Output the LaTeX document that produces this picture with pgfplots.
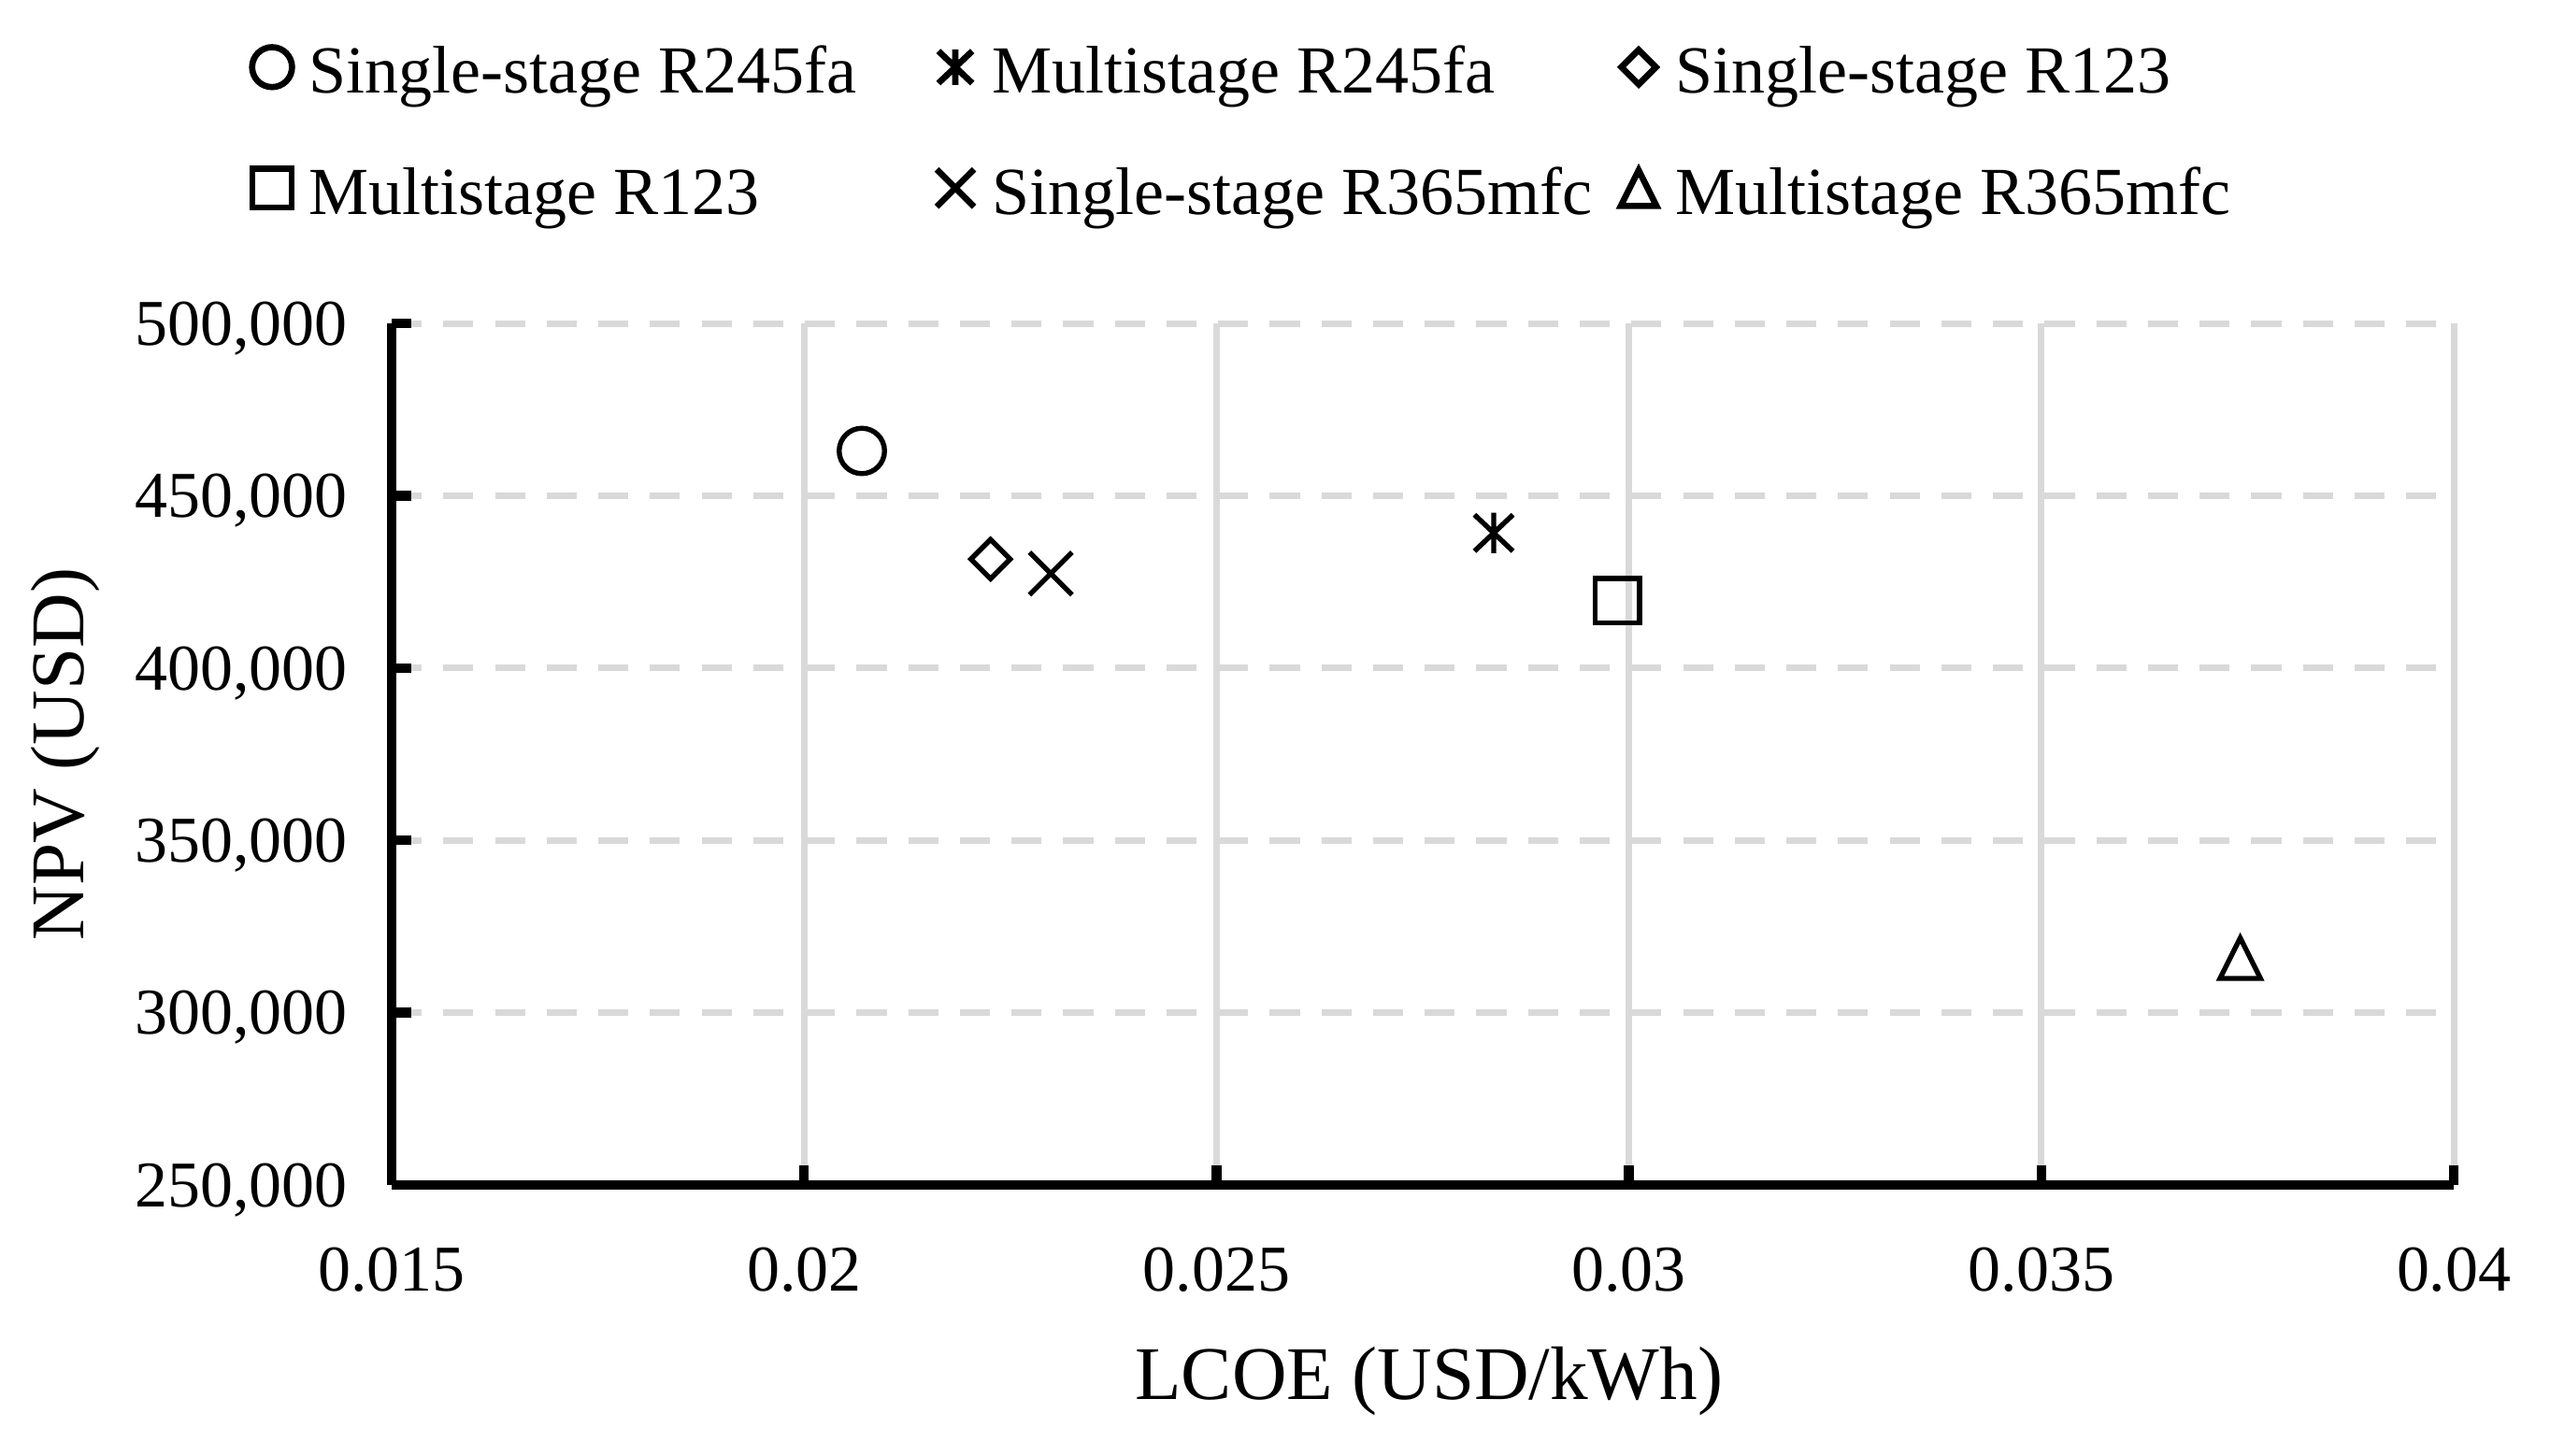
\documentclass[border=0pt]{standalone}
\usepackage{fontspec}
\setmainfont{Liberation Serif}
\usepackage{pgfplots}
\pgfplotsset{compat=1.18}
\usetikzlibrary{calc}

\definecolor{gridgray}{HTML}{D9D9D9}

\pgfdeclareplotmark{mydiamond}{%
  \pgfpathmoveto{\pgfqpoint{0pt}{\pgfplotmarksize}}%
  \pgfpathlineto{\pgfqpoint{\pgfplotmarksize}{0pt}}%
  \pgfpathlineto{\pgfqpoint{0pt}{-\pgfplotmarksize}}%
  \pgfpathlineto{\pgfqpoint{-\pgfplotmarksize}{0pt}}%
  \pgfpathclose\pgfusepathqstroke}
\pgfdeclareplotmark{myx}{%
  \pgfpathmoveto{\pgfqpoint{-\pgfplotmarksize}{-\pgfplotmarksize}}%
  \pgfpathlineto{\pgfqpoint{\pgfplotmarksize}{\pgfplotmarksize}}%
  \pgfpathmoveto{\pgfqpoint{-\pgfplotmarksize}{\pgfplotmarksize}}%
  \pgfpathlineto{\pgfqpoint{\pgfplotmarksize}{-\pgfplotmarksize}}%
  \pgfusepathqstroke}
\pgfdeclareplotmark{myast}{%
  \pgfpathmoveto{\pgfqpoint{-0.95\pgfplotmarksize}{-0.9\pgfplotmarksize}}%
  \pgfpathlineto{\pgfqpoint{0.95\pgfplotmarksize}{0.9\pgfplotmarksize}}%
  \pgfpathmoveto{\pgfqpoint{-0.95\pgfplotmarksize}{0.9\pgfplotmarksize}}%
  \pgfpathlineto{\pgfqpoint{0.95\pgfplotmarksize}{-0.9\pgfplotmarksize}}%
  \pgfpathmoveto{\pgfqpoint{0pt}{-\pgfplotmarksize}}%
  \pgfpathlineto{\pgfqpoint{0pt}{\pgfplotmarksize}}%
  \pgfusepathqstroke}
\pgfdeclareplotmark{mytriangle}{%
  \pgfpathmoveto{\pgfqpoint{0pt}{\pgfplotmarksize}}%
  \pgfpathlineto{\pgfqpoint{\pgfplotmarksize}{-\pgfplotmarksize}}%
  \pgfpathlineto{\pgfqpoint{-\pgfplotmarksize}{-\pgfplotmarksize}}%
  \pgfpathclose\pgfusepathqstroke}

\newcommand{\lt}[1]{\makebox[95.3pt][l]{#1}}

\begin{document}
\begin{tikzpicture}
\begin{axis}[
  scale only axis,
  width=315.4pt, height=131.8pt,
  xmin=0.015, xmax=0.04,
  ymin=250000, ymax=500000,
  enlargelimits=false,
  axis lines=left,
  axis line style={-, line width=1.5pt, black},
  xtick={0.015,0.02,0.025,0.03,0.035,0.04},
  ytick={250000,300000,350000,400000,450000,500000},
  scaled x ticks=false, scaled y ticks=false,
  tick align=inside,
  major tick length=3pt,
  tick style={line width=1.5pt, black},
  xmajorgrids, ymajorgrids,
  x grid style={solid, gridgray, line width=1pt},
  y grid style={gridgray, line width=1pt, dash pattern=on 4.6pt off 3.3pt},
  /pgf/number format/assume math mode=true,
  xticklabel style={/pgf/number format/fixed, /pgf/number format/precision=3,
    font=\fontsize{10}{12}\selectfont, anchor=north, inner sep=0pt, yshift=-9.4pt},
  yticklabel style={/pgf/number format/fixed, /pgf/number format/precision=0,
    /pgf/number format/1000 sep={,},
    font=\fontsize{10}{12}\selectfont, anchor=east, inner sep=0pt, text depth=0pt, xshift=-6.6pt},
  xlabel={LCOE (USD/kWh)},
  ylabel={NPV (USD)},
  xlabel style={font=\fontsize{11.6}{14}\selectfont, at={(axis description cs:0.503,-0.2278)}, anchor=center},
  ylabel style={font=\fontsize{11.6}{14}\selectfont, at={(axis description cs:-0.1582,0.5)}, anchor=center},
  legend columns=3,
  legend cell align=left,
  legend style={draw=none, fill=none, inner sep=0pt, outer sep=0pt,
    at={(axis description cs:-0.0694,1.3278)}, anchor=north west,
    column sep=0pt, row sep=10.5pt,
    font=\fontsize{10.3}{12}\selectfont,
    nodes={anchor=west, inner sep=0pt, outer sep=0pt, text height=8pt, text depth=0pt}},
  legend image code/.code={%
    \path[draw=none] (-3.6pt,0pt) (5.6pt,0pt);
    \draw[#1, line width=0.95pt, /tikz/every mark/.append style={scale=0.88}] plot coordinates {(0pt,0pt)};},
]
\addplot[only marks, black, line width=0.77pt, mark=o, mark size=3.47pt]
  coordinates {(0.0207,463000)};
\addlegendentry{\lt{Single-stage R245fa}}
\addplot[only marks, black, line width=0.77pt, mark=myast, mark size=3.1pt]
  coordinates {(0.02836,439200)};
\addlegendentry{\lt{Multistage R245fa}}
\addplot[only marks, black, line width=0.77pt, mark=mydiamond, mark size=3.0pt]
  coordinates {(0.02226,431600)};
\addlegendentry{\lt{Single-stage R123}}
\addplot[only marks, black, line width=0.77pt, mark=square, mark size=3.4pt]
  coordinates {(0.02986,419500)};
\addlegendentry{\lt{Multistage R123}}
\addplot[only marks, black, line width=0.77pt, mark=myx, mark size=3.25pt]
  coordinates {(0.02299,427400)};
\addlegendentry{\lt{Single-stage R365mfc}}
\addplot[only marks, black, line width=0.77pt, mark=mytriangle, mark size=3.1pt]
  coordinates {(0.03741,315800)};
\addlegendentry{\lt{Multistage R365mfc}}
\coordinate (bl) at (rel axis cs:0,0);
\end{axis}
\path ($(bl)+(-59.9pt,-41.46pt)$) rectangle ++(390pt,222.73pt);
\end{tikzpicture}
\end{document}
